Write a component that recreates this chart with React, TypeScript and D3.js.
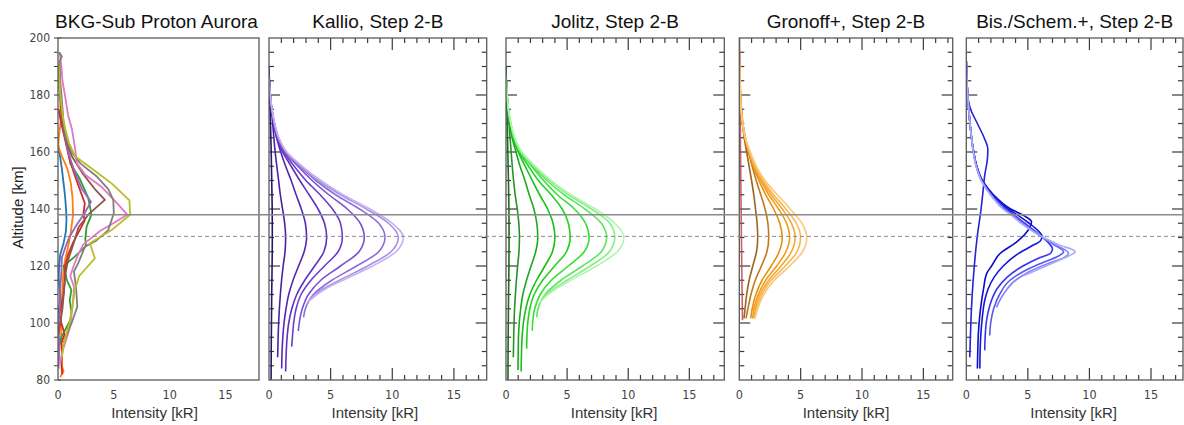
import React from 'react';
import * as d3 from 'd3';

type Pt = [number, number]; // [altitude km, intensity kR]

// ---------- text / ticks ----------
const panelTitles = ['BKG-Sub Proton Aurora', 'Kallio, Step 2-B', 'Jolitz, Step 2-B', 'Gronoff+, Step 2-B', 'Bis./Schem.+, Step 2-B'];
const altTicks = [80, 100, 120, 140, 160, 180, 200];
const intensityTicks = [0, 5, 10, 15];
const yLabel = 'Altitude [km]';
const xLabel = 'Intensity [kR]';
const refSolidAlt = 138;
const refDashedAlt = 130.4;

// ---------- panel 1: background-subtracted observed profiles ----------
const bkgBlue: Pt[] = [[163, 0.0], [158, 0.2], [154, 0.35], [149, 0.5], [145, 0.62], [140, 0.72], [136, 0.76], [132, 0.7], [128, 0.5], [124, 0.2], [120, 0.1], [116, 0.06], [112, 0.15], [108, 0.2], [104, 0.05], [100, 0.02]];
const bkgOrange: Pt[] = [[181, 0.25], [176, 0.2], [171, 0.25], [166, 0.1], [162, 0.02], [158, 0.4], [154, 0.85], [149, 1.15], [144, 1.3], [138, 1.35], [132, 1.15], [127, 0.92], [122, 0.63], [118, 0.48], [112, 0.4], [106, 0.3], [100, 0.25], [95, 0.3], [90, 0.35], [85, 0.35], [83, 0.5], [81, 0.2]];
const bkgGreen: Pt[] = [[190, 0.05], [180, 0.2], [170, 0.4], [163, 0.8], [156, 1.1], [151, 1.9], [144, 2.7], [138, 3.0], [133.8, 2.56], [129.7, 2.45], [127, 2.5], [123.3, 1.5], [120, 0.5], [115, 0.8], [111.5, 1.2], [108, 1.05], [104, 1.2], [101, 1.1], [98, 0.7], [95, 0.3], [92, 0.1]];
const bkgRed: Pt[] = [[175, 0.05], [170, 0.3], [164, 0.65], [158, 1.0], [153, 1.4], [148, 1.85], [142, 2.4], [138, 2.27], [136, 2.4], [133, 2.0], [128.4, 1.37], [124, 0.9], [120, 0.65], [115, 0.6], [110, 0.5], [106, 0.3], [103, 0.1], [100, 0.3], [96, 0.6], [93, 0.3], [90, 0.35], [86, 0.3], [82, 0.37]];
const bkgPurple: Pt[] = [[183, 0.1], [175, 0.3], [168, 0.5], [160, 0.9], [153, 1.5], [147, 2.15], [142.5, 2.95], [138, 2.3], [134, 1.6], [130, 1.0], [127, 0.7], [123, 0.35], [118, 0.3], [112, 0.2], [105, 0.15], [100, 0.05], [95, 0.1], [90, 0.1], [84, 0.05]];
const bkgBrown: Pt[] = [[185, 0.1], [175, 0.3], [168, 0.5], [163, 0.8], [158.4, 1.25], [152.5, 2.2], [147, 3.3], [143.2, 4.2], [138.4, 2.8], [133.7, 1.85], [128, 1.4], [122, 0.9], [118, 0.7], [112, 0.55], [105, 0.4], [100, 0.2], [96, 0.05]];
const bkgPink: Pt[] = [[195, 0.15], [190, 0.3], [185, 0.4], [179, 0.66], [173, 0.9], [168, 1.25], [162, 1.5], [156, 1.7], [152, 2.44], [147.6, 3.94], [142, 5.3], [138, 6.2], [135, 4.95], [132.3, 3.76], [127.6, 2.27], [124, 1.8], [120, 1.4], [116.5, 1.1], [112.5, 1.45], [106, 1.3], [99, 1.1], [95, 0.8], [90, 0.4], [86, 0.2]];
const bkgGray: Pt[] = [[195, 0.1], [193.5, 0.35], [192, 0.15], [185, 0.2], [178, 0.35], [170, 0.5], [165, 0.7], [160, 1.2], [156, 2.0], [151.3, 3.5], [147, 4.5], [143.2, 4.95], [138.5, 5.0], [132.6, 4.5], [129, 3.46], [126.8, 2.42], [121, 1.81], [118, 1.43], [112.7, 1.61], [105.7, 1.73], [100, 1.22], [97, 0.9], [93, 0.5]];
const bkgOlive: Pt[] = [[191, 0.05], [180, 0.2], [172, 0.45], [168, 0.66], [163, 1.0], [158.4, 1.55], [153.7, 3.2], [149, 4.8], [143, 6.4], [138, 6.45], [132.6, 4.8], [128, 2.86], [122.7, 3.3], [116.5, 1.9], [111.6, 1.5], [106, 1.3], [101, 1.1], [97, 0.8], [92, 0.5], [88, 0.35]];

// ---------- panel 2: Kallio ----------
const kallio0: Pt[] = [[190, 0], [180, 0.05], [170, 0.12], [160, 0.18], [150, 0.22], [140, 0.26], [130, 0.27], [120, 0.25], [110, 0.22], [100, 0.2], [90, 0.18], [80, 0.17]];
const kallio1: Pt[] = [[188, 0], [180, 0.1], [170, 0.3], [160, 0.5], [150, 0.78], [145, 0.92], [140, 1.1], [135, 1.27], [130, 1.35], [125, 1.3], [120, 1.15], [115, 1.02], [110, 0.92], [105, 0.84], [100, 0.78], [95, 0.74], [88, 0.7]];
const kallio2: Pt[] = [[188, 0], [180, 0.1], [175, 0.2], [170, 0.38], [165, 0.62], [160, 0.95], [155, 1.35], [150, 1.8], [145, 2.2], [140, 2.62], [135, 2.95], [130, 3.05], [125, 2.85], [120, 2.4], [115, 1.95], [110, 1.6], [105, 1.38], [100, 1.22], [95, 1.12], [90, 1.06], [84, 1.03]];
const kallio3: Pt[] = [[186, 0], [180, 0.1], [175, 0.22], [170, 0.4], [165, 0.62], [160, 1.1], [155, 1.8], [150, 2.5], [145, 3.25], [140, 3.98], [135, 4.5], [130, 4.68], [125, 4.45], [120, 3.7], [115, 2.9], [110, 2.25], [105, 1.85], [100, 1.6], [95, 1.47], [90, 1.4], [83, 1.35]];
const kallio4: Pt[] = [[186, 0], [180, 0.1], [175, 0.22], [170, 0.42], [165, 0.68], [160, 1.2], [155, 2.05], [150, 3.0], [145, 4.15], [140, 5.15], [135, 5.8], [130, 5.95], [125, 5.6], [120, 4.5], [115, 3.4], [110, 2.6], [105, 2.2], [100, 2.0], [95, 1.9], [91.7, 1.84]];
const kallio5: Pt[] = [[186, 0], [180, 0.1], [175, 0.23], [170, 0.43], [165, 0.72], [160, 1.3], [155, 2.35], [150, 3.5], [145, 4.85], [140, 6.35], [135, 7.4], [130, 7.73], [125, 7.3], [120, 5.8], [115, 4.2], [110, 3.2], [105, 2.7], [100, 2.45], [97.2, 2.38]];
const kallio6: Pt[] = [[186, 0], [180, 0.1], [175, 0.24], [170, 0.44], [165, 0.75], [160, 1.35], [155, 2.5], [150, 3.8], [145, 5.4], [140, 7.35], [135, 8.9], [130, 9.41], [125, 8.9], [120, 7.1], [115, 5.1], [110, 3.6], [105, 2.95], [102, 2.8]];
const kallio7: Pt[] = [[186, 0], [180, 0.1], [175, 0.24], [170, 0.45], [165, 0.78], [160, 1.4], [155, 2.6], [150, 4.0], [145, 5.8], [140, 7.9], [135, 9.7], [130, 10.49], [125, 9.9], [120, 8.0], [115, 5.7], [112, 4.4], [110, 3.7], [106.3, 3.05]];
const kallio8: Pt[] = [[186, 0], [180, 0.1], [175, 0.25], [170, 0.46], [165, 0.8], [160, 1.45], [155, 2.7], [150, 4.2], [145, 6.0], [140, 8.2], [135, 10.0], [130, 10.9], [125, 10.3], [120, 8.4], [115, 6.0], [112, 4.6], [110, 3.9], [107.5, 3.2]];

// ---------- panel 3: Jolitz ----------
const jolitz0: Pt[] = [[190, 0], [180, 0.05], [170, 0.1], [160, 0.15], [150, 0.2], [140, 0.24], [130, 0.25], [120, 0.24], [110, 0.21], [100, 0.19], [90, 0.17], [80, 0.16]];
const jolitz1: Pt[] = [[188, 0], [180, 0.08], [170, 0.25], [160, 0.42], [150, 0.62], [145, 0.75], [140, 0.92], [135, 1.05], [130, 1.1], [125, 1.06], [120, 0.95], [115, 0.85], [110, 0.77], [105, 0.7], [100, 0.66], [95, 0.63], [88, 0.6]];
const jolitz2: Pt[] = [[188, 0], [180, 0.09], [170, 0.3], [165, 0.5], [160, 0.82], [155, 1.15], [150, 1.55], [145, 1.9], [140, 2.28], [135, 2.52], [130, 2.6], [125, 2.43], [120, 2.05], [115, 1.68], [110, 1.38], [105, 1.2], [100, 1.08], [95, 1.02], [90, 1.0], [83.5, 0.98]];
const jolitz3: Pt[] = [[186, 0], [180, 0.09], [175, 0.18], [170, 0.35], [165, 0.58], [160, 1.0], [155, 1.57], [150, 2.15], [145, 2.75], [140, 3.4], [135, 3.85], [130, 4.0], [125, 3.8], [120, 3.18], [115, 2.5], [110, 1.95], [105, 1.62], [100, 1.42], [95, 1.32], [90, 1.27], [83, 1.24]];
const jolitz4: Pt[] = [[186, 0], [180, 0.09], [175, 0.18], [170, 0.36], [165, 0.62], [160, 1.08], [155, 1.85], [150, 2.65], [145, 3.7], [140, 4.6], [135, 5.1], [130, 5.25], [125, 4.95], [120, 3.98], [115, 3.0], [110, 2.3], [105, 1.95], [100, 1.78], [95, 1.71], [91, 1.69]];
const jolitz5: Pt[] = [[186, 0], [180, 0.09], [175, 0.19], [170, 0.38], [165, 0.65], [160, 1.15], [155, 2.1], [150, 3.08], [145, 4.2], [140, 5.6], [135, 6.5], [130, 6.8], [125, 6.4], [120, 5.1], [115, 3.7], [110, 2.8], [105, 2.35], [100, 2.18], [97.3, 2.15]];
const jolitz6: Pt[] = [[186, 0], [180, 0.09], [175, 0.19], [170, 0.39], [165, 0.68], [160, 1.2], [155, 2.2], [150, 3.35], [145, 4.75], [140, 6.45], [135, 7.8], [130, 8.23], [125, 7.8], [120, 6.25], [115, 4.5], [110, 3.2], [105, 2.62], [102, 2.5]];
const jolitz7: Pt[] = [[186, 0], [180, 0.09], [175, 0.2], [170, 0.4], [165, 0.7], [160, 1.25], [155, 2.3], [150, 3.55], [145, 5.1], [140, 7.0], [135, 8.5], [130, 8.9], [125, 8.45], [120, 6.9], [115, 5.0], [112, 3.9], [110, 3.3], [106.3, 2.65]];
const jolitz8: Pt[] = [[186, 0], [180, 0.09], [175, 0.2], [170, 0.41], [165, 0.72], [160, 1.3], [155, 2.4], [150, 3.7], [145, 5.3], [140, 7.3], [135, 8.9], [130, 9.65], [125, 9.1], [120, 7.4], [115, 5.3], [112, 4.1], [110, 3.45], [107.2, 2.8]];

// ---------- panel 4: Gronoff+ ----------
const gronoff0: Pt[] = [[200, 0.02], [180, 0.06], [160, 0.1], [140, 0.15], [120, 0.2], [101, 0.26]];
const gronoff1: Pt[] = [[195, 0], [185, 0.05], [175, 0.15], [170, 0.25], [165, 0.4], [160, 0.6], [155, 0.8], [150, 1.0], [145, 1.18], [140, 1.32], [135, 1.45], [130, 1.5], [125, 1.4], [120, 1.1], [115, 0.8], [110, 0.6], [105, 0.47], [101.6, 0.38]];
const gronoff2: Pt[] = [[195, 0], [185, 0.06], [175, 0.18], [170, 0.3], [165, 0.5], [160, 0.75], [155, 1.05], [150, 1.38], [145, 1.75], [140, 2.1], [135, 2.33], [130, 2.4], [125, 2.25], [120, 1.8], [115, 1.3], [110, 0.95], [105, 0.7], [101.6, 0.55]];
const gronoff3: Pt[] = [[192, 0], [185, 0.05], [175, 0.15], [170, 0.26], [165, 0.45], [160, 0.76], [155, 1.12], [150, 1.6], [145, 2.15], [140, 2.8], [135, 3.3], [130, 3.5], [125, 3.25], [120, 2.6], [115, 1.85], [110, 1.35], [105, 1.05], [101.6, 0.93]];
const gronoff4: Pt[] = [[192, 0], [185, 0.05], [175, 0.15], [170, 0.27], [165, 0.46], [160, 0.8], [155, 1.2], [150, 1.75], [145, 2.4], [140, 3.2], [135, 3.85], [130, 4.1], [125, 3.8], [120, 3.05], [115, 2.15], [110, 1.55], [105, 1.2], [101.6, 1.09]];
const gronoff5: Pt[] = [[192, 0], [185, 0.05], [175, 0.15], [170, 0.27], [165, 0.47], [160, 0.82], [155, 1.25], [150, 1.85], [145, 2.6], [140, 3.5], [135, 4.25], [130, 4.55], [125, 4.25], [120, 3.4], [115, 2.4], [110, 1.7], [105, 1.32], [101.6, 1.18]];
const gronoff6: Pt[] = [[192, 0], [185, 0.05], [175, 0.15], [170, 0.27], [165, 0.48], [160, 0.85], [155, 1.3], [150, 1.95], [145, 2.8], [140, 3.8], [135, 4.65], [130, 5.0], [125, 4.7], [120, 3.75], [115, 2.6], [110, 1.85], [105, 1.42], [101.6, 1.24]];
const gronoff7: Pt[] = [[192, 0], [185, 0.05], [175, 0.15], [170, 0.28], [165, 0.5], [160, 0.9], [155, 1.4], [150, 2.1], [145, 3.1], [140, 4.15], [135, 5.1], [130, 5.5], [125, 5.15], [120, 4.1], [115, 2.85], [110, 2.0], [105, 1.5], [101.6, 1.28]];

// ---------- panel 5: Bisikalo/Schematic+ ----------
const bis0: Pt[] = [[186, 0], [180, 0.1], [175, 0.35], [170, 0.9], [165, 1.45], [161, 1.75], [157, 1.7], [152, 1.5], [145, 1.33], [140, 1.2], [130, 0.88], [120, 0.65], [110, 0.48], [100, 0.37], [88, 0.28]];
const bis1: Pt[] = [[192, 0], [185, 0.05], [180, 0.12], [170, 0.3], [160, 0.6], [155, 0.85], [150, 1.3], [145, 2.2], [140, 3.6], [137.5, 4.75], [135.5, 5.3], [133.5, 5.15], [128.5, 4.1], [124.4, 2.74], [120, 2.05], [117.4, 1.66], [112, 1.4], [108, 1.25], [102, 1.08], [96.4, 0.98], [90, 0.93], [84, 0.9]];
const bis2: Pt[] = [[192, 0], [185, 0.05], [180, 0.12], [170, 0.3], [160, 0.6], [155, 0.85], [150, 1.3], [145, 2.15], [140, 3.4], [137.5, 4.3], [135, 5.1], [132.5, 5.8], [130.5, 6.15], [129, 6.05], [127, 5.3], [124, 4.1], [120, 3.0], [116, 2.25], [112, 1.78], [108, 1.5], [102, 1.3], [96, 1.18], [90, 1.12], [84, 1.1]];
const bis3: Pt[] = [[192, 0], [185, 0.05], [180, 0.12], [170, 0.3], [160, 0.58], [155, 0.82], [150, 1.25], [145, 2.05], [140, 3.2], [137.5, 4.0], [135, 4.75], [132.5, 5.5], [130, 6.2], [128, 6.7], [126, 7.0], [124.5, 6.85], [123, 6.0], [120, 4.6], [116, 3.3], [112, 2.5], [108, 2.05], [104, 1.78], [100, 1.62], [95, 1.53], [90.4, 1.5]];
const bis4: Pt[] = [[192, 0], [185, 0.05], [180, 0.12], [170, 0.3], [160, 0.58], [155, 0.82], [150, 1.25], [145, 2.0], [140, 3.1], [137.5, 3.9], [135, 4.6], [132.5, 5.4], [130, 6.2], [127.5, 7.1], [125, 7.9], [123.5, 7.5], [121, 6.1], [118, 4.6], [115, 3.55], [110, 2.7], [105, 2.22], [100, 1.98], [95.6, 1.9]];
const bis5: Pt[] = [[192, 0], [185, 0.05], [180, 0.12], [170, 0.3], [160, 0.58], [155, 0.8], [150, 1.22], [145, 1.98], [140, 3.0], [137.5, 3.8], [135, 4.5], [132.5, 5.3], [130, 6.2], [127.5, 7.2], [124.5, 8.3], [123, 7.95], [121, 6.7], [118, 5.1], [115, 4.0], [110, 3.0], [105.5, 2.45]];
const bis6: Pt[] = [[192, 0], [185, 0.05], [180, 0.12], [170, 0.3], [160, 0.58], [155, 0.8], [150, 1.2], [145, 1.95], [140, 3.0], [137.5, 3.75], [135, 4.45], [132.5, 5.3], [130, 6.3], [127.5, 7.5], [125, 8.85], [123.5, 8.3], [121, 7.0], [118.5, 5.7], [116.5, 4.6]];

// ---------- styles (kept separate from data) ----------
const bkgSeries = [bkgBlue, bkgOrange, bkgGreen, bkgRed, bkgPurple, bkgBrown, bkgPink, bkgGray, bkgOlive];
const bkgColors = ['#1f77b4', '#ff7f0e', '#2ca02c', '#d62728', '#9467bd', '#8c564b', '#e377c2', '#7f7f7f', '#bcbd22'];
const kallioSeries = [kallio0, kallio1, kallio2, kallio3, kallio4, kallio5, kallio6, kallio7, kallio8];
const kallioColors = ['#2a1668', '#4a1fa6', '#5427b8', '#5e30c4', '#6a3dcc', '#7a50d4', '#8f6cdc', '#a98fe6', '#c4b2f0'];
const jolitzSeries = [jolitz0, jolitz1, jolitz2, jolitz3, jolitz4, jolitz5, jolitz6, jolitz7, jolitz8];
const jolitzColors = ['#176e17', '#2a8f2a', '#1ea81e', '#15c015', '#1ed41e', '#34e034', '#5ce85c', '#86ef86', '#aef5ae'];
const gronoffSeries = [gronoff0, gronoff1, gronoff2, gronoff3, gronoff4, gronoff5, gronoff6, gronoff7];
const gronoffColors = ['#c0474a', '#9c6420', '#bf7a1c', '#e88f0c', '#f09a18', '#f4a82e', '#f7b955', '#fac87c'];
const bisSeries = [bis0, bis1, bis2, bis3, bis4, bis5, bis6];
const bisColors = ['#2323d8', '#0a0ad0', '#1414e0', '#3434ea', '#5858f0', '#8282f4', '#ababf8'];

const W = 1184;
const H = 425;
const yTop = 38;
const yBottom = 380;
const FONT = "'Liberation Sans', Arial, Helvetica, sans-serif";
const TICKFONT = "'Liberation Sans Narrow', 'DejaVu Sans Condensed', 'Liberation Sans', Arial, sans-serif";

const panelLayout = [
  { x0: 58, x1: 259, xMax: 18, labelShift: -4 },
  { x0: 269, x1: 486.7, xMax: 17.66, labelShift: -3 },
  { x0: 506, x1: 724.3, xMax: 17.86, labelShift: -1 },
  { x0: 739.3, x1: 952.7, xMax: 17.39, labelShift: 0 },
  { x0: 966.3, x1: 1183, xMax: 17.6, labelShift: -1 },
];

const panelSeries = [bkgSeries, kallioSeries, jolitzSeries, gronoffSeries, bisSeries];
const panelColors = [bkgColors, kallioColors, jolitzColors, gronoffColors, bisColors];

const yScale = d3.scaleLinear().domain([80, 200]).range([yBottom, yTop]);

function Panel({ idx }: { idx: number }) {
  const L = panelLayout[idx];
  const xs = d3.scaleLinear().domain([0, L.xMax]).range([L.x0, L.x1]);
  const curve = idx === 0 ? d3.curveLinear : d3.curveMonotoneY;
  const line = d3
    .line<Pt>()
    .x((d) => xs(d[1]))
    .y((d) => yScale(d[0]))
    .curve(curve);
  const series = panelSeries[idx];
  const colors = panelColors[idx];
  const clipId = `clip${idx}`;
  const tickColor = '#3a3a3a';

  const ticks: JSX.Element[] = [];
  const altMinor = d3.range(80, 201, 5);
  const xMinor = d3.range(0, Math.floor(L.xMax) + 1, 1);
  if (idx === 0) {
    altMinor.forEach((a) => {
      const major = a % 20 === 0;
      ticks.push(
        <line key={`yl${a}`} x1={L.x0 - 4} x2={major ? L.x0 + 3 : L.x0} y1={yScale(a)} y2={yScale(a)} stroke={tickColor} strokeWidth={1} />
      );
    });
  } else {
    altMinor.forEach((a) => {
      if (a === 80 || a === 200) return;
      const len = a % 20 === 0 ? 11 : 5;
      ticks.push(<line key={`yl${a}`} x1={L.x0} x2={L.x0 + len} y1={yScale(a)} y2={yScale(a)} stroke={tickColor} strokeWidth={1.2} />);
      ticks.push(<line key={`yr${a}`} x1={L.x1 - len} x2={L.x1} y1={yScale(a)} y2={yScale(a)} stroke={tickColor} strokeWidth={1.2} />);
    });
    xMinor.forEach((v) => {
      if (v === 0) return;
      const len = v % 5 === 0 ? 12 : 5;
      ticks.push(<line key={`xt${v}`} x1={xs(v)} x2={xs(v)} y1={yTop} y2={yTop + len} stroke={tickColor} strokeWidth={1.2} />);
      ticks.push(<line key={`xb${v}`} x1={xs(v)} x2={xs(v)} y1={yBottom - len} y2={yBottom} stroke={tickColor} strokeWidth={1.2} />);
    });
  }

  const cx = (L.x0 + L.x1) / 2;
  return (
    <g>
      <defs>
        <clipPath id={clipId}>
          <rect x={L.x0} y={yTop} width={L.x1 - L.x0} height={yBottom - yTop} />
        </clipPath>
      </defs>
      {ticks}
      <g clipPath={`url(#${clipId})`}>
        {series.map((s, i) => (
          <path
            key={i}
            d={line(s) || ''}
            fill="none"
            stroke={colors[i]}
            strokeWidth={idx === 0 ? 1.8 : 1.6}
            strokeOpacity={idx === 3 && i === 0 ? 0.85 : 1}
            strokeLinejoin="round"
          />
        ))}
      </g>
      <rect x={L.x0} y={yTop} width={L.x1 - L.x0} height={yBottom - yTop} fill="none" stroke="#5a5a5a" strokeWidth={1.3} />
      {intensityTicks.map((v) => (
        <text key={`xl${v}`} x={xs(v)} y={398.5} textAnchor="middle" fontFamily={TICKFONT} fontSize={12.5} fill="#444">
          {v}
        </text>
      ))}
      <text x={cx + L.labelShift} y={418} textAnchor="middle" fontFamily={FONT} fontSize={15} fill="#333">
        {xLabel}
      </text>
      <text x={cx + (idx === 0 ? -2 : 0)} y={28} textAnchor="middle" fontFamily={FONT} fontSize={19} fill="#111">
        {panelTitles[idx]}
      </text>
    </g>
  );
}

export default function App() {
  const xStart = panelLayout[0].x0;
  return (
    <svg width={W} height={H} style={{ position: 'absolute', left: 0, top: 0, background: '#fff' }} xmlns="http://www.w3.org/2000/svg">
      <rect x={0} y={0} width={W} height={H} fill="#fff" />
      {panelLayout.map((_, i) => (
        <Panel key={i} idx={i} />
      ))}
      <line x1={xStart} x2={W} y1={yScale(refSolidAlt)} y2={yScale(refSolidAlt)} stroke="#8a8a8a" strokeWidth={1.5} />
      <line x1={xStart} x2={W} y1={yScale(refDashedAlt)} y2={yScale(refDashedAlt)} stroke="#8a8a8a" strokeWidth={1} strokeDasharray="4,3" />
      {altTicks.map((a) => (
        <text key={a} x={50} y={yScale(a) + 4} textAnchor="end" fontFamily={TICKFONT} fontSize={12} fill="#444">
          {a}
        </text>
      ))}
      <text transform={`translate(23,${207.5}) rotate(-90)`} textAnchor="middle" fontFamily={FONT} fontSize={15} fill="#222">
        {yLabel}
      </text>
    </svg>
  );
}
